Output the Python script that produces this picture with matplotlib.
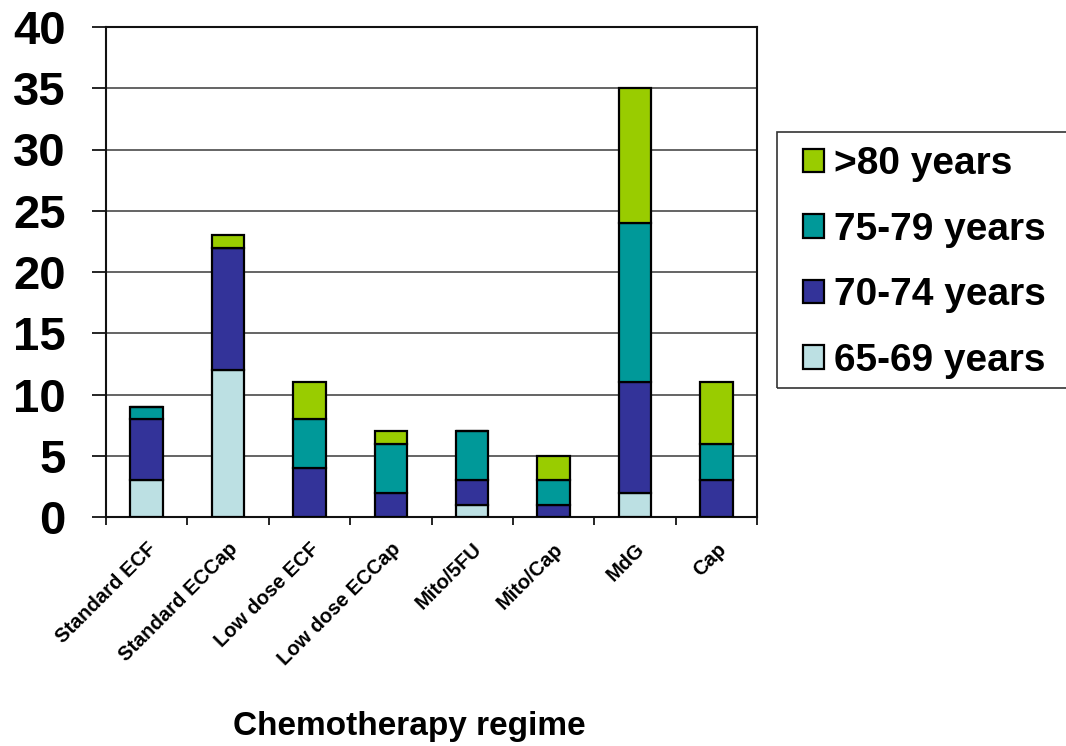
import matplotlib.pyplot as plt
from matplotlib.patches import Rectangle
import numpy as np

plt.rcParams['font.family'] = ['Liberation Sans', 'DejaVu Sans']

regimes = ['Standard ECF', 'Standard ECCap', 'Low dose ECF', 'Low dose ECCap',
           'Mito/5FU', 'Mito/Cap', 'MdG', 'Cap']
age_groups = ['65-69 years', '70-74 years', '75-79 years', '>80 years']
age_65_69 = [3, 12, 0, 0, 1, 0, 2, 0]
age_70_74 = [5, 10, 4, 2, 2, 1, 9, 3]
age_75_79 = [1, 0, 4, 4, 4, 2, 13, 3]
age_80_up = [0, 1, 3, 1, 0, 2, 11, 5]
colors = ['#bce0e3', '#333399', '#009999', '#99cc00']

W, H = 1066, 746
fig = plt.figure(figsize=(W / 100, H / 100), dpi=100)
ax = fig.add_axes([106 / W, 1 - 517 / H, 651 / W, 490 / H])

x = np.arange(len(regimes))
bottom = np.zeros(len(regimes))
bars = []
for vals, col, lab in zip([age_65_69, age_70_74, age_75_79, age_80_up], colors, age_groups):
    b = ax.bar(x, vals, width=0.4, bottom=bottom, color=col, edgecolor='black',
               linewidth=1.6, label=lab, zorder=3)
    bars.append(b)
    bottom += np.array(vals)

ax.set_xlim(-0.5, len(regimes) - 0.5)
ax.set_ylim(0, 40)
ax.set_yticks(range(0, 41, 5))
ax.yaxis.grid(True, color='#3a3a3a', linewidth=1.1, zorder=0)
ax.tick_params(axis='y', labelsize=34, direction='out', length=10, width=1.2, pad=19)
for t in ax.get_yticklabels():
    t.set_fontweight('bold')

# category boundary ticks on the x axis
ax.set_xticks(np.arange(-0.5, len(regimes) + 0.5, 1))
ax.set_xticklabels([])
ax.set_xticks(x, minor=True)
ax.set_xticklabels(regimes, minor=True, rotation=45, ha='right', rotation_mode='anchor',
                   fontsize=14.5, fontweight='bold')
ax.tick_params(axis='x', which='major', direction='out', length=6, width=1.2)
ax.tick_params(axis='x', which='minor', length=0, pad=16)

for side in ['top', 'right', 'left', 'bottom']:
    ax.spines[side].set_linewidth(1.5)
    ax.spines[side].set_color('#111111')

fig.text(409 / W, 1 - 735 / H, 'Chemotherapy regime', ha='center', va='baseline',
         fontsize=24, fontweight='bold')

# legend frame runs off the right edge like in the original
fig.patches.append(Rectangle((777 / W, 1 - 388 / H), 300 / W, 256 / H,
                             transform=fig.transFigure, fill=False,
                             edgecolor='#333333', linewidth=1.2))
handles = bars[::-1]
leg = fig.legend(handles, age_groups[::-1], loc='upper left',
                 bbox_to_anchor=(803 / W, 1 - 146 / H), frameon=False,
                 prop={'size': 28, 'weight': 'bold'}, borderpad=0, borderaxespad=0,
                 handlelength=0.55, handleheight=0.55, handletextpad=0.25,
                 labelspacing=0.76)

fig.savefig('out.png', dpi=100)
